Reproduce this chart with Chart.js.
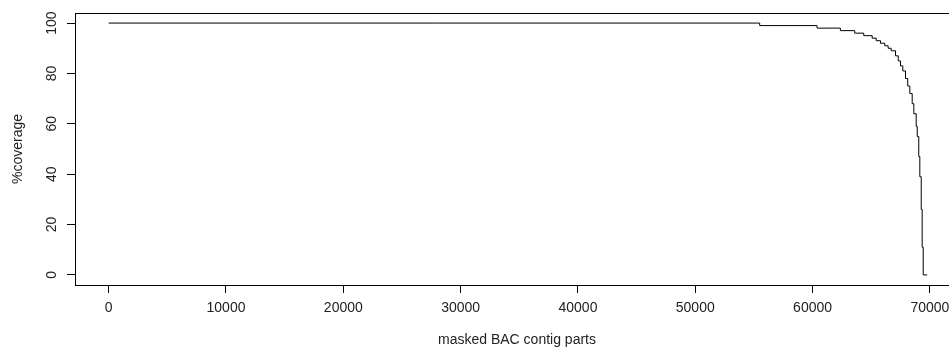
<!DOCTYPE html>
<html lang="en">
<head>
  <meta charset="UTF-8"/>
  <title>Coverage of masked BAC contig parts</title>
  <style>
    html, body { margin: 0; padding: 0; background: #fff; overflow: hidden; }
    .wrap { width: 960px; height: 356px; position: relative; }
  </style>
  <script src="https://cdn.jsdelivr.net/npm/chart.js"></script>
</head>
<body>
  <div class="wrap"><canvas id="coverageChart"></canvas></div>

  <script>
    // step start (contig part index) and %coverage from there on
    const partIndex = [0, 55490, 60380, 62370, 63590, 64360, 65080, 65420, 65790, 66150, 66440, 66700,
                       67070, 67300, 67490, 67690, 67920, 68110, 68290, 68490, 68630, 68830, 68920,
                       69050, 69140, 69260, 69340, 69430, 69770];
    const coverage  = [100, 99, 98, 97, 96, 95, 94, 93, 92, 91, 90, 89,
                       87, 85, 83, 81, 78, 75, 72, 68, 64, 59, 55,
                       47, 39, 26, 11, 0, 0];

    const xTicks = [0, 10000, 20000, 30000, 40000, 50000, 60000, 70000];
    const yTicks = [0, 20, 40, 60, 80, 100];

    const font = { family: "'Liberation Sans', Arial, sans-serif", size: 14 };
    const ink = '#222';

    // R style box round the plot region
    const boxPlugin = {
      id: 'box',
      afterDraw(chart) {
        const a = chart.chartArea, ctx = chart.ctx;
        ctx.save();
        ctx.strokeStyle = '#000';
        ctx.lineWidth = 1;
        ctx.strokeRect(Math.round(a.left) + 0.5, Math.round(a.top) + 0.5,
                       Math.round(a.right - a.left), Math.round(a.bottom - a.top));
        ctx.restore();
      }
    };

    new Chart(document.getElementById('coverageChart'), {
      type: 'line',
      data: {
        datasets: [{
          data: partIndex.map((x, i) => ({ x, y: coverage[i] })),
          stepped: 'before',
          borderColor: '#000',
          borderWidth: 1,
          pointRadius: 0,
          fill: false,
          tension: 0
        }]
      },
      options: {
        responsive: true,
        maintainAspectRatio: false,
        animation: false,
        layout: { padding: { top: 13, right: 1, left: 0, bottom: 0 } },
        plugins: { legend: { display: false }, tooltip: { enabled: false } },
        scales: {
          x: {
            type: 'linear',
            min: -2870,
            max: 72480,
            afterBuildTicks: s => { s.ticks = xTicks.map(v => ({ value: v })); },
            afterFit: s => { s.height = 71; },
            border: { display: false },
            grid: { drawOnChartArea: false, drawTicks: true, tickLength: 8, color: '#000' },
            ticks: { color: ink, font, padding: 7, maxRotation: 0, callback: v => String(v) },
            title: { display: true, text: 'masked BAC contig parts', color: ink, font, padding: { bottom: 7 } }
          },
          y: {
            type: 'linear',
            min: -4,
            max: 104,
            afterBuildTicks: s => { s.ticks = yTicks.map(v => ({ value: v })); },
            afterFit: s => { s.width = 75; },
            border: { display: false },
            grid: { drawOnChartArea: false, drawTicks: true, tickLength: 8, color: '#000' },
            ticks: { color: ink, font, padding: 3, minRotation: 90, maxRotation: 90, crossAlign: 'center',
                     callback: v => String(v) },
            title: { display: true, text: '%coverage', color: ink, font, padding: { top: 10 } }
          }
        }
      },
      plugins: [boxPlugin]
    });
  </script>
</body>
</html>
